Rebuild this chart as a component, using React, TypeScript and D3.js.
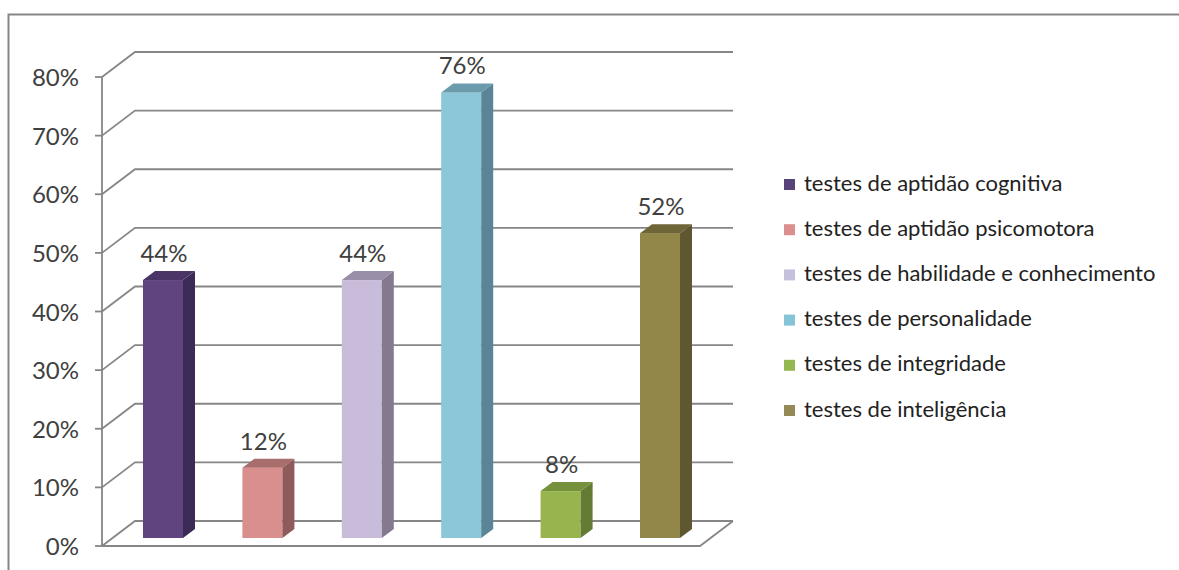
import React from "react";
import * as d3 from "d3";

const categories = [
  "testes de aptidão cognitiva",
  "testes de aptidão psicomotora",
  "testes de habilidade e conhecimento",
  "testes de personalidade",
  "testes de integridade",
  "testes de inteligência",
];
const values = [44, 12, 44, 76, 8, 52];
const frontColors = ["#5f4480", "#d98f8d", "#c9bcda", "#8bc6d9", "#98b44e", "#928648"];
const sideColors = ["#3d2b57", "#8f5b5a", "#84798f", "#5b8597", "#657a32", "#5f5731"];
const topColors = ["#4a3566", "#a86e6c", "#9a8fa9", "#6b9bad", "#76913c", "#6e6538"];
const swatchColors = ["#574377", "#dd8f90", "#c5c0dc", "#85c3d6", "#93b84f", "#958a55"];
const yTicks = [0, 10, 20, 30, 40, 50, 60, 70, 80];

const WIDTH = 1179;
const HEIGHT = 570;
const DEPTH_X = 33;
const DEPTH_Y = 25;
const BAR_DX = 12;
const BAR_DY = 9;
const BAR_BASE_SHIFT = 8;
const GRID = "#868686";
const TEXT = "#404040";
const LABEL_FONT = "Lato, 'Open Sans', sans-serif";

// Front plane of the value axis; the back wall and bars are offset from it.
const y = d3.scaleLinear().domain([0, 80]).range([546, 77]);
const x = d3
  .scaleBand<number>()
  .domain(d3.range(categories.length))
  .range([93.6, 690.0])
  .paddingInner(0.6)
  .paddingOuter(0.3);
const legendY = d3
  .scalePoint<number>()
  .domain(d3.range(categories.length))
  .range([184, 410]);

const poly = d3.line<[number, number]>().curve(d3.curveLinearClosed);

export default function App() {
  const axisX = 102;
  const backLeft = axisX + DEPTH_X;
  const backRight = 733;
  const floorRight = backRight - DEPTH_X;
  const barW = 40;

  return (
    <svg
      width={WIDTH}
      height={HEIGHT}
      viewBox={`0 0 ${WIDTH} ${HEIGHT}`}
      style={{ position: "fixed", left: 0, top: 0, background: "#fff" }}
    >
      <path d={`M8.5 ${HEIGHT}V14.5H${WIDTH}`} fill="none" stroke={GRID} strokeWidth={2} />

      {yTicks.map((t) => {
        const fy = y(t);
        const by = fy - DEPTH_Y;
        return (
          <g key={t}>
            <path
              d={`M${axisX} ${fy}L${backLeft} ${by}H${backRight}`}
              fill="none"
              stroke={GRID}
              strokeWidth={1.8}
            />
            <line x1={axisX - 7} x2={axisX} y1={fy} y2={fy} stroke={GRID} strokeWidth={1.8} />
            <text
              x={79}
              y={fy + 3}
              textAnchor="end"
              dominantBaseline="middle"
              fontFamily={LABEL_FONT}
              fontSize={24}
              fill={TEXT}
            >
              {t}%
            </text>
          </g>
        );
      })}

      <line x1={axisX} x2={axisX} y1={y(80)} y2={y(0)} stroke={GRID} strokeWidth={1.8} />
      <path
        d={`M${axisX} ${y(0)}H${floorRight}L${backRight} ${y(0) - DEPTH_Y}`}
        fill="none"
        stroke={GRID}
        strokeWidth={1.8}
      />

      {values.map((v, i) => {
        const left = 143 + (x(i)! - x(0)!);
        const right = left + barW;
        const bottom = y(0) - BAR_BASE_SHIFT;
        const top = y(v) - BAR_BASE_SHIFT;
        const side: [number, number][] = [
          [right, top],
          [right + BAR_DX, top - BAR_DY],
          [right + BAR_DX, bottom - BAR_DY],
          [right, bottom],
        ];
        const cap: [number, number][] = [
          [left, top],
          [left + BAR_DX, top - BAR_DY],
          [right + BAR_DX, top - BAR_DY],
          [right, top],
        ];
        return (
          <g key={categories[i]}>
            <rect x={left} y={top} width={barW} height={bottom - top} fill={frontColors[i]} />
            <path d={poly(side)!} fill={sideColors[i]} />
            <path d={poly(cap)!} fill={topColors[i]} />
            <text
              x={left + barW / 2 + 1}
              y={top - 18}
              textAnchor="middle"
              fontFamily={LABEL_FONT}
              fontSize={24}
              fill={TEXT}
            >
              {v}%
            </text>
          </g>
        );
      })}

      {categories.map((c, i) => {
        const cy = legendY(i)!;
        return (
          <g key={c}>
            <rect x={784} y={cy - 5} width={11} height={11} fill={swatchColors[i]} />
            <text
              x={804}
              y={cy + 1}
              dominantBaseline="middle"
              fontFamily={LABEL_FONT}
              fontSize={22}
              fill="#222"
            >
              {c}
            </text>
          </g>
        );
      })}
    </svg>
  );
}
